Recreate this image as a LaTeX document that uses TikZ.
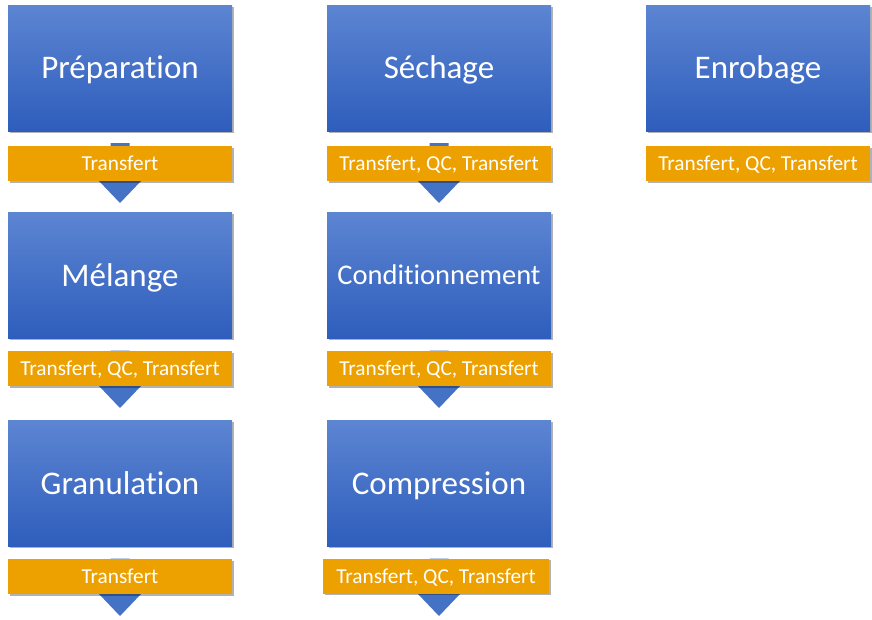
\documentclass[tikz,border=0pt]{standalone}
\usepackage{fontspec}
\setmainfont[Ligatures=NoCommon]{Carlito}
\usetikzlibrary{shadows,calc}
\definecolor{bluetop}{RGB}{92,133,210}
\definecolor{bluebot}{RGB}{46,93,188}
\definecolor{arrowblue}{RGB}{68,114,196}
\definecolor{gold}{RGB}{237,161,0}
\tikzset{
  stage/.style={rectangle, inner sep=0pt, outer sep=0pt, minimum width=224pt, minimum height=126pt,
    text height=29.7pt, text depth=7.9pt,
    top color=bluetop, bottom color=bluebot, text=white, font=\fontsize{33}{36}\selectfont,
    drop shadow={shadow xshift=1.5pt, shadow yshift=-1.5pt, opacity=0.3, fill=black}},
  xfer/.style={rectangle, inner sep=0pt, outer sep=0pt, minimum width=224pt, minimum height=35pt,
    text height=19.2pt, text depth=5.1pt,
    fill=gold, text=white, font=\fontsize{21.3}{24}\selectfont,
    drop shadow={shadow xshift=1.5pt, shadow yshift=-1.5pt, opacity=0.3, fill=black}}
}
\newcommand{\flowarrow}[2]{% #1 box above, #2 bar bottom
  \fill[arrowblue] ($(#1.south)+(-9.5pt,-12pt)$) -- ($(#1.south)+(9.5pt,-12pt)$)
    -- ($(#2)+(9.5pt,0)$) -- ($(#2)+(21pt,0)$) -- ($(#2)+(0,-22pt)$)
    -- ($(#2)+(-21pt,0)$) -- ($(#2)+(-9.5pt,0)$) -- cycle;}
\begin{document}
\begin{tikzpicture}[x=1pt,y=-1pt]
\useasboundingbox (0,0) rectangle (872,619);
% boxes
\node[stage] (prep) at (120,68) {Préparation};
\node[stage] (mel) at (120,275.5) {Mélange};
\node[stage] (gran) at (120,483.5) {Granulation};
\node[stage] (sech) at (439,68) {Séchage};
\node[stage, font=\fontsize{28.5}{31}\selectfont, text height=25.6pt, text depth=6.8pt] (cond) at (439,275.5) {Conditionnement};
\node[stage] (comp) at (439,483.5) {Compression};
\node[stage] (enro) at (758,68) {Enrobage};
% arrows (behind bars)
\coordinate (b1) at (120,181);
\coordinate (b2) at (120,386);
\coordinate (b3) at (120,594);
\coordinate (b4) at (439,181);
\coordinate (b5) at (439,386);
\coordinate (b6) at (439,594);
\flowarrow{prep}{b1}
\flowarrow{mel}{b2}
\flowarrow{gran}{b3}
\flowarrow{sech}{b4}
\flowarrow{cond}{b5}
\flowarrow{comp}{b6}
% bars
\node[xfer] (t1) at (120,163.5) {Transfert};
\node[xfer] (t2) at (120,368.5) {Transfert, QC, Transfert};
\node[xfer] (t3) at (120,576.5) {Transfert};
\node[xfer] (t4) at (439,163.5) {Transfert, QC, Transfert};
\node[xfer] (t5) at (439,368.5) {Transfert, QC, Transfert};
\node[xfer, minimum width=226pt] (t6) at (436,576) {Transfert, QC, Transfert};
\node[xfer] (t7) at (758,163.5) {Transfert, QC, Transfert};
\end{tikzpicture}
\end{document}
